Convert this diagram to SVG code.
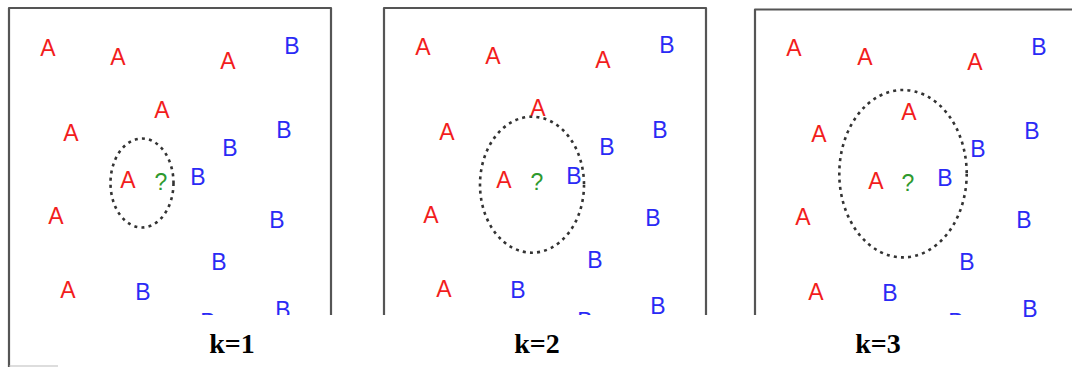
<svg xmlns="http://www.w3.org/2000/svg" width="1072" height="367" viewBox="0 0 1072 367">
<style>
.frame{fill:none;stroke:#555;stroke-width:2.2;stroke-linejoin:round}
.pt{font-family:"Liberation Sans",Arial,sans-serif;font-size:23px;text-anchor:middle}
.a{fill:#f21d1d}
.b{fill:#2a2af5}
.q{fill:#2e9a2e}
.ring{fill:none;stroke:#333;stroke-width:2.6;stroke-dasharray:3 4.2}
.lbl{font-family:"Liberation Serif","Times New Roman",serif;font-size:28px;font-weight:bold;text-anchor:middle;fill:#000}
</style>
<defs>
<clipPath id="c1"><rect x="0" y="0" width="345" height="315"/></clipPath>
<clipPath id="c2"><rect x="370" y="0" width="350" height="315"/></clipPath>
<clipPath id="c3"><rect x="740" y="0" width="332" height="315"/></clipPath>
</defs>
<rect width="1072" height="367" fill="#fff"/>

<g id="panel1">
<path class="frame" d="M9,367 V8 H331 V315"/>
<line x1="9" y1="366" x2="58" y2="366" stroke="#bbb" stroke-width="1.2"/>
<g clip-path="url(#c1)">
<text class="pt a" x="48" y="56">A</text>
<text class="pt a" x="118" y="65">A</text>
<text class="pt a" x="228" y="69">A</text>
<text class="pt b" x="292" y="54">B</text>
<text class="pt a" x="162" y="118">A</text>
<text class="pt a" x="71" y="141">A</text>
<text class="pt b" x="284" y="138">B</text>
<text class="pt b" x="230" y="156">B</text>
<text class="pt a" x="128" y="188">A</text>
<text class="pt q" x="161" y="190">?</text>
<text class="pt b" x="198" y="185">B</text>
<text class="pt a" x="56" y="224">A</text>
<text class="pt b" x="277" y="228">B</text>
<text class="pt b" x="219" y="270">B</text>
<text class="pt a" x="68" y="298">A</text>
<text class="pt b" x="143" y="300">B</text>
<text class="pt b" x="208" y="330">B</text>
<text class="pt b" x="283" y="318">B</text>
</g>
<ellipse class="ring" cx="142" cy="183" rx="31.5" ry="44.5"/>
<text class="lbl" x="232" y="353">k=1</text>
</g>

<g id="panel2">
<path class="frame" d="M384,315 V8 H706 V315"/>
<g clip-path="url(#c2)">
<text class="pt a" x="423" y="55">A</text>
<text class="pt a" x="493" y="64">A</text>
<text class="pt a" x="603" y="68">A</text>
<text class="pt b" x="667" y="53">B</text>
<text class="pt a" x="538" y="116">A</text>
<text class="pt a" x="447" y="140">A</text>
<text class="pt b" x="660" y="138">B</text>
<text class="pt b" x="607" y="155">B</text>
<text class="pt a" x="504" y="188">A</text>
<text class="pt q" x="537" y="190">?</text>
<text class="pt b" x="574" y="184">B</text>
<text class="pt a" x="431" y="223">A</text>
<text class="pt b" x="653" y="226">B</text>
<text class="pt b" x="595" y="268">B</text>
<text class="pt a" x="444" y="297">A</text>
<text class="pt b" x="518" y="298">B</text>
<text class="pt b" x="585" y="329">B</text>
<text class="pt b" x="658" y="314">B</text>
</g>
<ellipse class="ring" cx="532" cy="184.7" rx="52" ry="68"/>
<text class="lbl" x="537" y="353">k=2</text>
</g>

<g id="panel3">
<path class="frame" d="M755,315 V9.5 H1074"/>
<g clip-path="url(#c3)">
<text class="pt a" x="794" y="56">A</text>
<text class="pt a" x="865" y="65">A</text>
<text class="pt a" x="975" y="70">A</text>
<text class="pt b" x="1039" y="55">B</text>
<text class="pt a" x="909" y="120">A</text>
<text class="pt a" x="819" y="142">A</text>
<text class="pt b" x="1032" y="139">B</text>
<text class="pt b" x="978" y="157">B</text>
<text class="pt a" x="876" y="189">A</text>
<text class="pt q" x="908" y="191">?</text>
<text class="pt b" x="945" y="186">B</text>
<text class="pt a" x="803" y="225">A</text>
<text class="pt b" x="1024" y="228">B</text>
<text class="pt b" x="967" y="270">B</text>
<text class="pt a" x="816" y="300">A</text>
<text class="pt b" x="890" y="301">B</text>
<text class="pt b" x="956" y="330">B</text>
</g>
<text class="pt b" x="1030" y="317">B</text>
<ellipse class="ring" cx="903" cy="173.7" rx="63.7" ry="83.7"/>
<text class="lbl" x="878" y="353">k=3</text>
</g>
</svg>
